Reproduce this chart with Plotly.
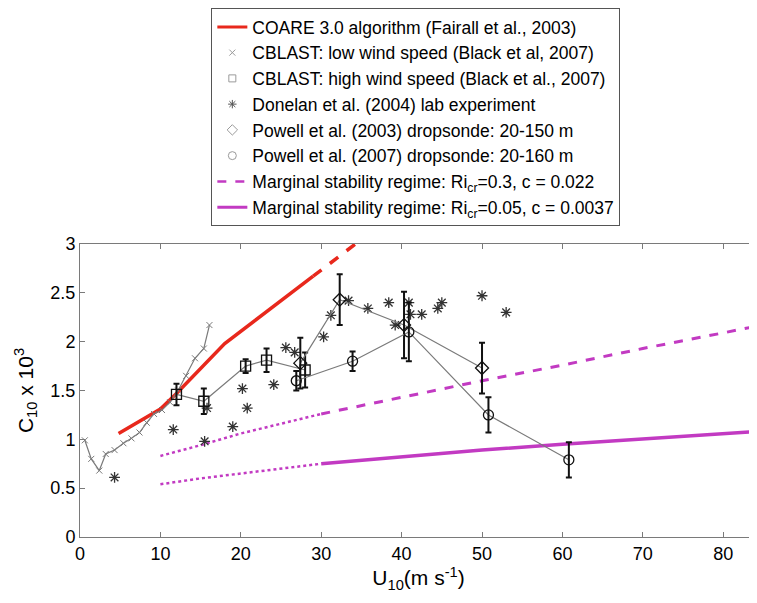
import plotly.graph_objects as go

# ---------------- data ----------------
coare_x = [4.8, 10.0, 12.0, 18.0, 29.0]
coare_y = [1.06, 1.31, 1.47, 1.98, 2.67]
coare_ext_x = [29.0, 36.0]
coare_ext_y = [2.67, 3.11]

cblast_low_x = [0.6, 1.4, 2.4, 3.2, 4.3, 5.4, 6.4, 7.4, 8.3, 9.2, 10.2, 11.2, 12.2, 13.2, 14.3, 15.4, 16.1]
cblast_low_y = [0.99, 0.80, 0.68, 0.85, 0.89, 0.96, 1.01, 1.07, 1.17, 1.26, 1.30, 1.38, 1.50, 1.65, 1.83, 1.93, 2.17]

cblast_high_x = [12.0, 15.4, 20.6, 23.2, 28.0]
cblast_high_y = [1.46, 1.39, 1.75, 1.81, 1.71]
cblast_high_err = [0.11, 0.13, 0.07, 0.12, 0.18]

donelan_x = [4.3, 11.6, 15.5, 15.8, 19.0, 20.2, 20.8, 24.1, 25.6, 26.7, 30.3, 31.2, 33.4, 35.8,
             38.4, 39.2, 40.9, 41.1, 42.5, 44.5, 45.0, 50.0, 53.0]
donelan_y = [0.61, 1.10, 0.98, 1.32, 1.13, 1.52, 1.32, 1.56, 1.94, 1.89, 2.05, 2.27, 2.42, 2.34,
             2.40, 2.17, 2.40, 2.28, 2.28, 2.34, 2.40, 2.47, 2.30]

powell03_x = [27.4, 32.3, 40.3, 50.0]
powell03_y = [1.78, 2.43, 2.17, 1.73]
powell03_err = [0.26, 0.26, 0.34, 0.26]

powell07_x = [26.9, 33.9, 40.9, 50.8, 60.8]
powell07_y = [1.60, 1.80, 2.10, 1.25, 0.79]
powell07_err = [0.10, 0.10, 0.30, 0.18, 0.18]

ms03_dot_x = [10, 15, 20, 25, 30]
ms03_dot_y = [0.83, 0.94, 1.06, 1.16, 1.26]
ms03_x = [30, 40, 50, 60, 70, 80, 86]
ms03_y = [1.26, 1.43, 1.60, 1.76, 1.93, 2.09, 2.19]

ms005_dot_x = [10, 15, 20, 25, 30]
ms005_dot_y = [0.54, 0.60, 0.65, 0.70, 0.75]
ms005_x = [30, 40, 50, 60, 70, 80, 86]
ms005_y = [0.75, 0.82, 0.89, 0.95, 1.00, 1.05, 1.09]

x_ticks = [0, 10, 20, 30, 40, 50, 60, 70, 80]
y_ticks = [0, 0.5, 1, 1.5, 2, 2.5, 3]
y_tick_labels = ["0", "0.5", "1", "1.5", "2", "2.5", "3"]

RED = "#e8281c"
MAG = "#c23ac2"
GRAY = "#7a7a7a"
LGRAY = "#9a9a9a"
FONT = "Liberation Sans, Arial, Helvetica, sans-serif"

fig = go.Figure()

# --- plotted data (no legend) ---
fig.add_trace(go.Scatter(x=ms03_dot_x, y=ms03_dot_y, mode="lines",
                         line=dict(color=MAG, width=2.5, dash="dot"), showlegend=False))
fig.add_trace(go.Scatter(x=ms03_x, y=ms03_y, mode="lines",
                         line=dict(color=MAG, width=3, dash="dash"), showlegend=False))
fig.add_trace(go.Scatter(x=ms005_dot_x, y=ms005_dot_y, mode="lines",
                         line=dict(color=MAG, width=2.5, dash="dot"), showlegend=False))
fig.add_trace(go.Scatter(x=ms005_x, y=ms005_y, mode="lines",
                         line=dict(color=MAG, width=3.5), showlegend=False))

fig.add_trace(go.Scatter(x=coare_x, y=coare_y, mode="lines",
                         line=dict(color=RED, width=3.5), showlegend=False))
fig.add_trace(go.Scatter(x=coare_ext_x, y=coare_ext_y, mode="lines",
                         line=dict(color=RED, width=3.5, dash="dash"), showlegend=False))

fig.add_trace(go.Scatter(x=cblast_low_x, y=cblast_low_y, mode="lines+markers",
                         line=dict(color=GRAY, width=1.2),
                         marker=dict(symbol="x-thin-open", size=6, color=GRAY, line=dict(width=1, color=GRAY)),
                         showlegend=False))

fig.add_trace(go.Scatter(x=donelan_x, y=donelan_y, mode="markers",
                         marker=dict(symbol="asterisk-open", size=9, color="#333333",
                                     line=dict(width=1.3, color="#333333")),
                         showlegend=False))

for xs, ys, es, sym in [(cblast_high_x, cblast_high_y, cblast_high_err, "square-open"),
                        (powell03_x, powell03_y, powell03_err, "diamond-open"),
                        (powell07_x, powell07_y, powell07_err, "circle-open")]:
    fig.add_trace(go.Scatter(x=xs, y=ys, mode="lines",
                             line=dict(color=GRAY, width=1.2), showlegend=False))
    fig.add_trace(go.Scatter(x=xs, y=ys, mode="markers",
                             marker=dict(symbol=sym, size=10, color="#111111",
                                         line=dict(width=1.3, color="#111111")),
                             error_y=dict(type="data", array=es, visible=True,
                                          color="#111111", thickness=2, width=3),
                             showlegend=False))

# --- legend entries ---
def leg(name, **kw):
    fig.add_trace(go.Scatter(x=[None], y=[None], name=name, **kw))

leg("COARE 3.0 algorithm (Fairall et al., 2003)", mode="lines", line=dict(color=RED, width=3))
leg("CBLAST: low wind speed (Black et al, 2007)", mode="markers",
    marker=dict(symbol="x-thin-open", size=6, color=LGRAY, line=dict(width=1, color=LGRAY)))
leg("CBLAST: high wind speed (Black et al., 2007)", mode="markers",
    marker=dict(symbol="square-open", size=7, color=LGRAY, line=dict(width=1, color=LGRAY)))
leg("Donelan et al. (2004) lab experiment", mode="markers",
    marker=dict(symbol="asterisk-open", size=7, color="#555555", line=dict(width=1, color="#555555")))
leg("Powell et al. (2003) dropsonde: 20-150 m", mode="markers",
    marker=dict(symbol="diamond-open", size=8, color=LGRAY, line=dict(width=1, color=LGRAY)))
leg("Powell et al. (2007) dropsonde: 20-160 m", mode="markers",
    marker=dict(symbol="circle-open", size=8, color=LGRAY, line=dict(width=1, color=LGRAY)))
leg("Marginal stability regime: Ri<sub>cr</sub>=0.3, c = 0.022", mode="lines",
    line=dict(color=MAG, width=2.5, dash="dash"))
leg("Marginal stability regime: Ri<sub>cr</sub>=0.05, c = 0.0037", mode="lines",
    line=dict(color=MAG, width=3))

axis_common = dict(showline=True, linecolor=GRAY, linewidth=1, mirror="ticks",
                   ticks="inside", ticklen=5, tickcolor=GRAY, tickwidth=1,
                   showgrid=False, zeroline=False, automargin=False,
                   tickfont=dict(family=FONT, size=18, color="black"))

fig.update_layout(
    width=749, height=595,
    margin=dict(l=72, r=0, t=228, b=66),
    paper_bgcolor="white", plot_bgcolor="white",
    font=dict(family=FONT, size=18, color="black"),
    xaxis=dict(range=[0, 84.2], tickvals=x_ticks, ticktext=[str(v) for v in x_ticks],
               title=dict(text="U<sub>10</sub>(m s<sup>-1</sup>)", standoff=4,
                          font=dict(family=FONT, size=21)),
               **axis_common),
    yaxis=dict(range=[0, 3], tickvals=y_ticks, ticktext=y_tick_labels,
               title=dict(text="C<sub>10</sub> x 10<sup>3</sup>", standoff=11,
                          font=dict(family=FONT, size=21)),
               **axis_common),
    legend=dict(x=0.194, y=1.807, xanchor="left", yanchor="top",
                bgcolor="white", bordercolor="#555555", borderwidth=1,
                font=dict(family=FONT, size=17.5, color="black"),
                tracegroupgap=0, itemwidth=30, traceorder="normal"),
    showlegend=True,
)

fig.write_html("out.html")
